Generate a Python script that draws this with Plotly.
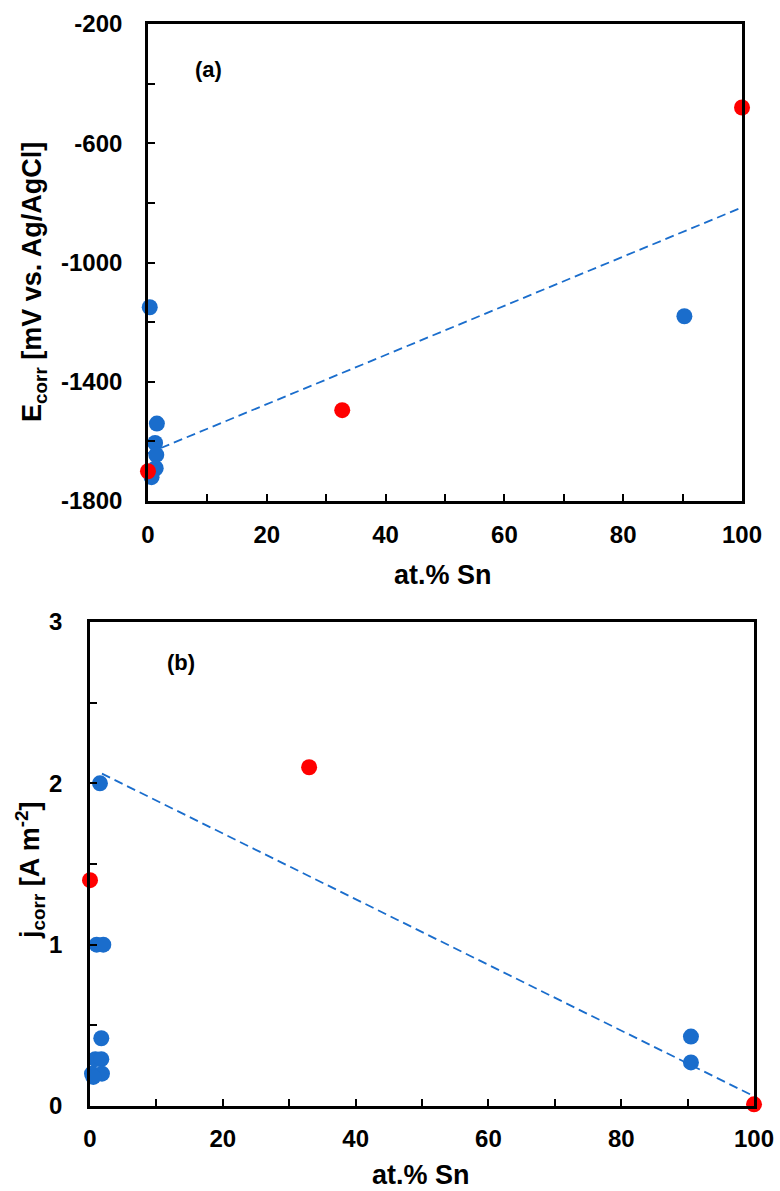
import plotly.graph_objects as go

# Panel (a): corrosion potential
a_blue_x = [0.3, 1.5, 1.2, 1.4, 1.3, 0.8, 0.6, 90.3]
a_blue_y = [-1150, -1540, -1605, -1645, -1690, -1700, -1720, -1180]
a_red_x = [0.0, 32.7, 100.0]
a_red_y = [-1700, -1495, -480]
a_fit_x = [0.0, 100.0]
a_fit_y = [-1640, -815]
a_ytick_vals = [-1800, -1400, -1000, -600, -200]
a_ytick_text = ["-1800", "-1400", "-1000", "-600", "-200"]

# Panel (b): corrosion current density
b_blue_x = [1.5, 1.0, 2.0, 1.7, 0.8, 1.7, 0.3, 1.8, 0.5, 90.5, 90.5]
b_blue_y = [2.0, 1.0, 1.0, 0.42, 0.29, 0.29, 0.20, 0.20, 0.18, 0.43, 0.27]
b_red_x = [0.0, 33.0, 100.0]
b_red_y = [1.40, 2.10, 0.01]
b_fit_x = [1.8, 100.0]
b_fit_y = [2.06, 0.06]
b_ytick_vals = [0, 1, 2, 3]
b_ytick_text = ["0", "1", "2", "3"]

x_tick_vals = [0, 20, 40, 60, 80, 100]
x_tick_text = ["0", "20", "40", "60", "80", "100"]

BLUE = "#1a6dcc"
RED = "#ff0000"
FONT = "Liberation Sans, Arial, sans-serif"

fig = go.Figure()

def add_panel(xa, ya, bx, by, rx, ry, fx, fy):
    fig.add_trace(go.Scatter(x=fx, y=fy, mode="lines", xaxis=xa, yaxis=ya,
                             line=dict(color=BLUE, width=1.8, dash="9px,5px"),
                             showlegend=False, hoverinfo="skip"))
    fig.add_trace(go.Scatter(x=bx, y=by, mode="markers", xaxis=xa, yaxis=ya,
                             marker=dict(color=BLUE, size=16, line=dict(width=0)),
                             cliponaxis=False, showlegend=False))
    fig.add_trace(go.Scatter(x=rx, y=ry, mode="markers", xaxis=xa, yaxis=ya,
                             marker=dict(color=RED, size=16, line=dict(width=0)),
                             cliponaxis=False, showlegend=False))

add_panel("x", "y", a_blue_x, a_blue_y, a_red_x, a_red_y, a_fit_x, a_fit_y)
add_panel("x2", "y2", b_blue_x, b_blue_y, b_red_x, b_red_y, b_fit_x, b_fit_y)

tickfont = dict(family=FONT, size=24, color="black", weight="bold")
titlefont = dict(family=FONT, size=27, color="black", weight="bold")
labelfont = dict(family=FONT, size=22, color="black", weight="bold")

def xaxis(domain, anchor, standoff):
    return dict(domain=domain, anchor=anchor, range=[0, 100],
                tickmode="array", tickvals=x_tick_vals, ticktext=x_tick_text,
                ticks="inside", ticklen=7, tickwidth=2, tickcolor="black",
                minor=dict(dtick=10, tick0=0, ticks="inside", ticklen=7, tickwidth=2, tickcolor="black"),
                showline=True, linecolor="black", linewidth=2.5, mirror=True,
                showgrid=False, zeroline=False, tickfont=tickfont,
                ticklabelstandoff=standoff, automargin=False)

def yaxis(domain, anchor, rng, vals, text, mdt, standoff):
    return dict(domain=domain, anchor=anchor, range=rng,
                tickmode="array", tickvals=vals, ticktext=text,
                ticks="inside", ticklen=7, tickwidth=2, tickcolor="black",
                minor=dict(dtick=mdt, tick0=rng[0], ticks="inside", ticklen=7, tickwidth=2, tickcolor="black"),
                showline=True, linecolor="black", linewidth=2.5, mirror=True,
                showgrid=False, zeroline=False, tickfont=tickfont,
                ticklabelstandoff=standoff, automargin=False)

def ann(text, px, py, font, angle=0):
    return dict(text=text, x=px / 780, y=1 - py / 1191, xref="paper", yref="paper",
                xanchor="center", yanchor="middle", textangle=angle,
                showarrow=False, font=font)

fig.update_layout(
    width=780, height=1191,
    margin=dict(l=0, r=0, t=0, b=0, autoexpand=False),
    paper_bgcolor="white", plot_bgcolor="white",
    font=dict(family=FONT, color="black"),
    xaxis=xaxis([0.1897, 0.9513], "y", 10),
    yaxis=yaxis([0.5793, 0.9798], "x", [-1800, -200], a_ytick_vals, a_ytick_text, 200, 18),
    xaxis2=xaxis([0.1154, 0.9667], "y2", 9),
    yaxis2=yaxis([0.0714, 0.4777], "x2", [0, 3], b_ytick_vals, b_ytick_text, 0.5, 20),
    annotations=[
        ann("(a)", 208, 70, labelfont),
        ann("(b)", 181, 662, labelfont),
        ann("at.% Sn", 443, 575, titlefont),
        ann("at.% Sn", 421, 1175, titlefont),
        ann("E<sub>corr</sub> [mV vs. Ag/AgCl]", 34, 282, titlefont, -90),
        ann("j<sub>corr</sub> [A m<sup>-2</sup>]", 30, 870, titlefont, -90),
    ],
)

fig.write_html("out.html")
